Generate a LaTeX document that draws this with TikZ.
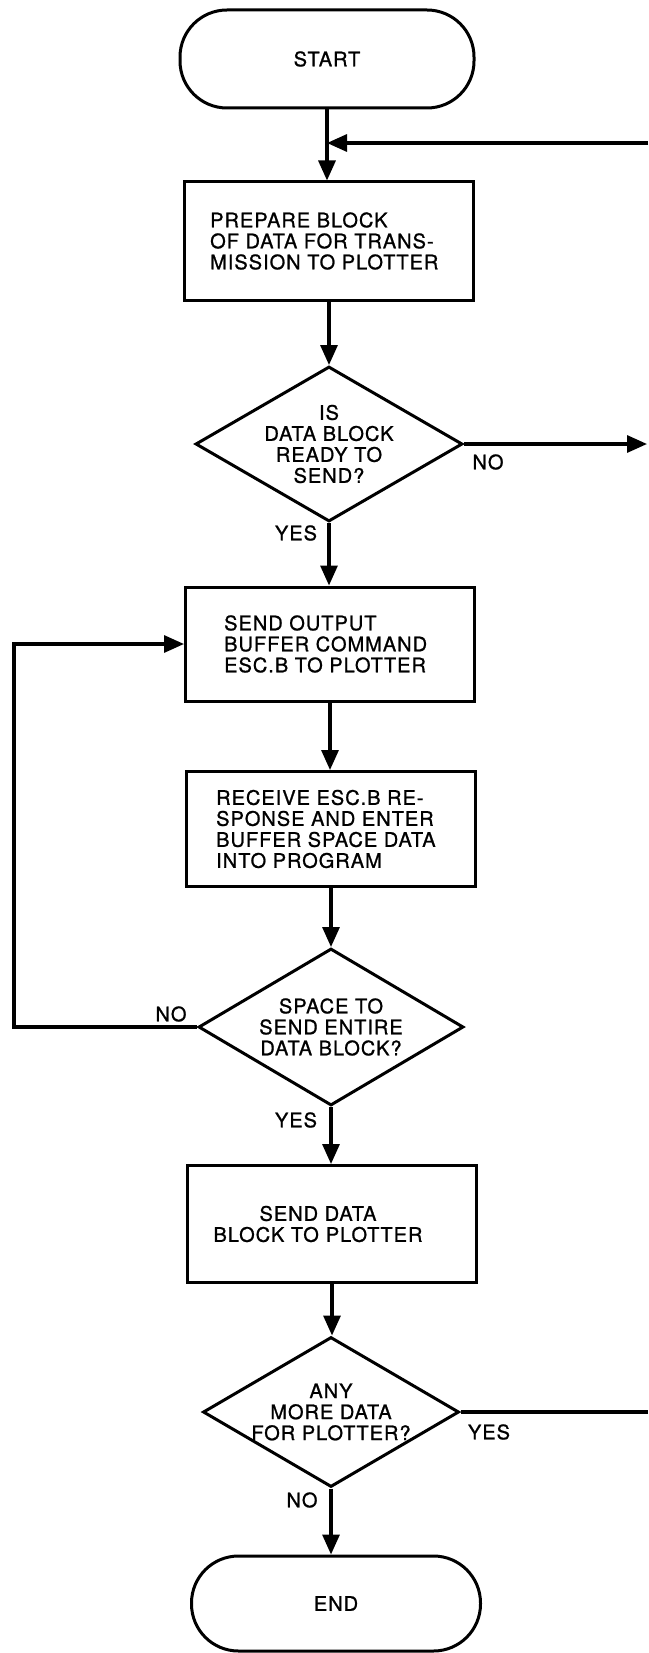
\documentclass[tikz,border=0pt]{standalone}
\usepackage{fontspec}
\setmainfont{TeX Gyre Heros}[LetterSpace=5,FakeBold=1]
\usetikzlibrary{arrows.meta,shapes.geometric}
\tikzset{
  every node/.style={font=\fontsize{20}{21}\selectfont},
  term/.style={draw, line width=3pt, rounded corners=47pt, minimum width=294pt, minimum height=98pt, inner sep=0pt},
  procbox/.style={draw, line width=3pt, minimum width=289pt, inner sep=0pt},
  decision/.style={draw, diamond, line width=3pt, inner sep=0pt},
  lefttext/.style={align=left, inner sep=0pt, anchor=west},
  midtext/.style={align=center, inner sep=0pt},
  arr/.style={line width=3.2pt, -{Triangle[length=20pt,width=17pt]}},
  plain/.style={line width=3.2pt},
}
\begin{document}
\begin{tikzpicture}[x=1pt,y=-1pt]
\useasboundingbox (0,0) rectangle (648,1653);
% nodes
\node[term] (start) at (327,59) {START};
\node[procbox, minimum height=118pt] (prep) at (329,241) {};
\node[lefttext] (prepT) at ([xshift=27pt]prep.west) {PREPARE BLOCK\\OF DATA FOR TRANS-\\MISSION TO PLOTTER};
\node[decision, minimum width=267pt, minimum height=155pt] (d1) at (329,444) {};
\node[midtext] (d1T) at (d1) {IS\\DATA BLOCK\\READY TO\\SEND?};
\node[procbox, minimum height=114pt] (sendout) at (330,644) {};
\node[lefttext] (sendoutT) at ([xshift=40pt]sendout.west) {SEND OUTPUT\\BUFFER COMMAND\\ESC.B TO PLOTTER};
\node[procbox, minimum height=115pt] (recv) at (331,829) {};
\node[lefttext] (recvT) at ([xshift=31pt]recv.west) {RECEIVE ESC.B RE-\\SPONSE AND ENTER\\BUFFER SPACE DATA\\INTO PROGRAM};
\node[decision, minimum width=265pt, minimum height=157pt] (d2) at (331,1027) {};
\node[midtext] (d2T) at (d2) {SPACE TO\\SEND ENTIRE\\DATA BLOCK?};
\node[procbox, minimum height=117pt] (senddata) at (332,1224) {};
\node[midtext] (senddataT) at (318,1224) {SEND DATA\\BLOCK TO\hspace{0.35em}PLOTTER};
\node[decision, minimum width=256pt, minimum height=150pt] (d3) at (331,1412) {};
\node[midtext] (d3T) at (d3) {ANY\\MORE DATA\\FOR PLOTTER?};
\node[term, minimum width=289pt, minimum height=95pt] (end) at (336,1603.5) {END};
% free ends
\coordinate (fbR) at (648,143);
\coordinate (noR) at (647,444);
\coordinate (yesR) at (648,1412);
\coordinate (loopL) at (14,0);
% connectors
\draw[arr] (start.south) -- (start.south |- prep.north);
\draw[arr] (fbR) -- (fbR -| start.south);
\draw[arr] (prep.south) -- (prep.south |- d1.north);
\draw[arr] (d1.east) -- (d1.east -| noR);
\draw[arr] (d1.south) -- (d1.south |- sendout.north);
\draw[arr] (sendout.south) -- (sendout.south |- recv.north);
\draw[arr] (recv.south) -- (recv.south |- d2.north);
\draw[arr] (d2.west) -- (d2.west -| loopL) |- (sendout.west);
\draw[arr] (d2.south) -- (d2.south |- senddata.north);
\draw[arr] (senddata.south) -- (senddata.south |- d3.north);
\draw[plain] (d3.east) -- (d3.east -| yesR);
\draw[arr] (d3.south) -- (d3.south |- end.north);
% labels
\node (d1no) at (488,462) {NO};
\node (d1yes) at (296,533) {YES};
\node (d2no) at (171,1014) {NO};
\node (d2yes) at (296,1120) {YES};
\node (d3yes) at (489,1432) {YES};
\node (d3no) at (302,1500) {NO};
\end{tikzpicture}
\end{document}
